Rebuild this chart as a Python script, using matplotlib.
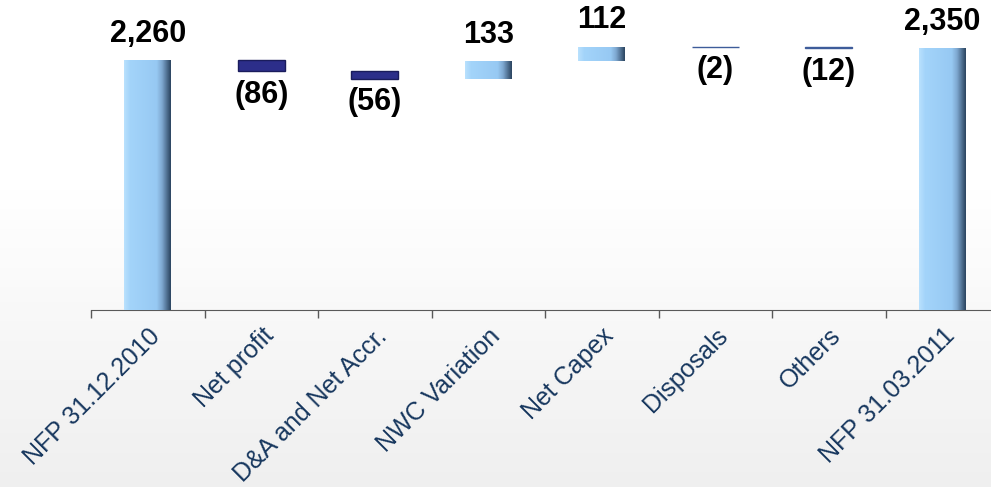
import numpy as np
import matplotlib.pyplot as plt
from matplotlib.colors import LinearSegmentedColormap

plt.rcParams['font.family'] = ['Liberation Sans', 'DejaVu Sans']

# waterfall data (EUR m)
categories = ['NFP 31.12.2010', 'Net profit', 'D&A and Net Accr.', 'NWC Variation',
              'Net Capex', 'Disposals', 'Others', 'NFP 31.03.2011']
values = [2260, -86, -56, 133, 112, -2, -12, 2350]
is_total = [True, False, False, False, False, False, False, True]


# bottoms and heights of the floating bars
def waterfall(vals, totals):
    bottoms, heights = [], []
    level = 0
    for v, t in zip(vals, totals):
        if t:
            bottoms.append(0)
            heights.append(v)
            level = v
        else:
            new = level + v
            bottoms.append(min(level, new))
            heights.append(abs(v))
            level = new
    return bottoms, heights


def fmt(v):
    return '{:,}'.format(v) if v >= 0 else '({:,})'.format(-v)


bottoms, heights = waterfall(values, is_total)
x = np.arange(len(categories))

fig = plt.figure(figsize=(9.91, 4.87), dpi=100)

# light grey gradient background
bg = fig.add_axes([0, 0, 1, 1], zorder=-1)
grad = np.concatenate([np.ones(35), np.linspace(1, 0.935, 65)])[:, None]
bg.imshow(grad, aspect='auto', cmap='gray', vmin=0, vmax=1, extent=[0, 1, 0, 1])
bg.axis('off')

ax = fig.add_axes([91 / 991, 177 / 487, 908 / 991, 310 / 487])
ax.patch.set_alpha(0)
ax.set_xlim(-0.5, len(categories) - 0.5)
ax.set_ylim(340, 2721)
ymin = ax.get_ylim()[0]

blue_cmap = LinearSegmentedColormap.from_list(
    'b', [(0, '#b8e0fd'), (0.12, '#a3d4fa'), (0.7, '#97c9f3'), (0.82, '#7ea8d0'), (1.0, '#2f4965')])
navy = '#2c2e8a'
w = 0.41

for i in range(len(categories)):
    v = values[i]
    if v > 20:
        b = ax.bar(x[i], heights[i], w, bottom=bottoms[i], color='#9ccdf6', linewidth=0, zorder=2)[0]
        img = ax.imshow(np.linspace(0, 1, 40)[None, :], cmap=blue_cmap, aspect='auto',
                        extent=[x[i] - w / 2, x[i] + w / 2, max(bottoms[i], ymin), bottoms[i] + heights[i]],
                        zorder=3, interpolation='bilinear')
        img.set_clip_path(b)
    elif v < -20:
        ax.bar(x[i], heights[i], w, bottom=bottoms[i], color=navy,
               edgecolor='#1a1c5c', linewidth=1, zorder=2)
    else:
        ax.bar(x[i], heights[i], w, bottom=bottoms[i], color='#3e5c9a',
               edgecolor='#3e5c9a', linewidth=1, zorder=2)

    if v >= 0:
        ax.annotate(fmt(v), (x[i], bottoms[i] + heights[i]), xytext=(0, 8),
                    textcoords='offset points', ha='center', va='bottom',
                    fontsize=22, fontweight='bold', color='black')
    else:
        ax.annotate(fmt(v), (x[i], bottoms[i]), xytext=(0, -6),
                    textcoords='offset points', ha='center', va='top',
                    fontsize=22, fontweight='bold', color='black')

for s in ['top', 'right', 'left']:
    ax.spines[s].set_visible(False)
ax.spines['bottom'].set_color('#595959')
ax.set_yticks([])

ax.set_xticks(np.arange(len(categories) + 1) - 0.5)
ax.set_xticklabels([])
ax.tick_params(axis='x', which='major', direction='out', length=6, width=1, color='#595959')
ax.set_xticks(x, minor=True)
ax.set_xticklabels(categories, minor=True, rotation=45, ha='right', va='top',
                   rotation_mode='anchor', fontsize=18, color='#17375e')
ax.tick_params(axis='x', which='minor', length=0, pad=10)

fig.savefig('out.png', dpi=100)
